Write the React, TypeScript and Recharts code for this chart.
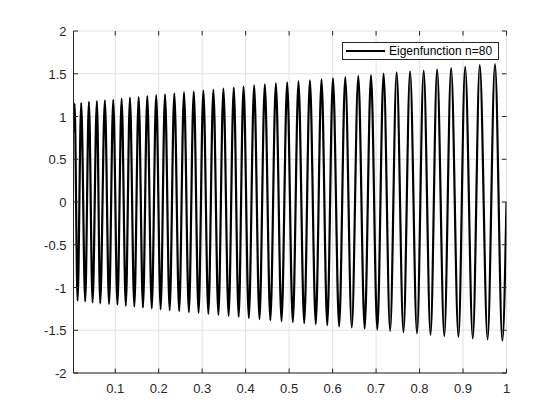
import React from "react";
import { LineChart, Line, XAxis, YAxis, CartesianGrid, Legend } from "recharts";

const seriesName = "Eigenfunction n=80";

// curve starts just inside the left edge and ends at zero on x=1
const startPoint = { x: 0.004, y: 0.82 };
const endPoint = { x: 1, y: 0 };

// maxima and minima
const peakX = [
  0.0065, 0.0217, 0.0394, 0.0578, 0.0762, 0.0954, 0.1147, 0.1338, 0.1539, 0.1737,
  0.1942, 0.2145, 0.2359, 0.2582, 0.2806, 0.3027, 0.3257, 0.3488, 0.3727, 0.3951,
  0.4195, 0.4441, 0.4695, 0.4955, 0.5215, 0.5478, 0.5745, 0.6008, 0.6291, 0.6591,
  0.6883, 0.7173, 0.7473, 0.7782, 0.8095, 0.8404, 0.8726, 0.9049, 0.9385, 0.9735,
];
const peakY = [
  1.150, 1.158, 1.170, 1.181, 1.189, 1.196, 1.208, 1.220, 1.228, 1.240,
  1.249, 1.260, 1.271, 1.283, 1.290, 1.302, 1.313, 1.325, 1.337, 1.349,
  1.365, 1.377, 1.388, 1.400, 1.412, 1.423, 1.435, 1.447, 1.462, 1.474,
  1.485, 1.501, 1.517, 1.529, 1.536, 1.552, 1.567, 1.582, 1.602, 1.614,
];
const troughX = [
  0.0134, 0.0309, 0.0479, 0.0654, 0.0858, 0.1051, 0.1243, 0.1439, 0.1638, 0.1840,
  0.2044, 0.2252, 0.2471, 0.2694, 0.2917, 0.3142, 0.3373, 0.3608, 0.3839, 0.4073,
  0.4318, 0.4568, 0.4825, 0.5085, 0.5347, 0.5612, 0.5877, 0.6150, 0.6441, 0.6737,
  0.7028, 0.7323, 0.7630, 0.7941, 0.8253, 0.8569, 0.8895, 0.9225, 0.9565, 0.9905,
];
const troughY = [
  -1.154, -1.164, -1.175, -1.185, -1.193, -1.202, -1.214, -1.224, -1.234, -1.245,
  -1.255, -1.266, -1.277, -1.287, -1.296, -1.308, -1.319, -1.331, -1.343, -1.357,
  -1.371, -1.383, -1.394, -1.406, -1.418, -1.429, -1.441, -1.455, -1.468, -1.480,
  -1.493, -1.509, -1.524, -1.536, -1.552, -1.567, -1.579, -1.594, -1.606, -1.622,
];

const xTicks = [0.1, 0.2, 0.3, 0.4, 0.5, 0.6, 0.7, 0.8, 0.9, 1];
const yTicks = [-2, -1.5, -1, -0.5, 0, 0.5, 1, 1.5, 2];
const xDomain = [0.004, 1];
const yDomain = [-2, 2];

const data = [
  startPoint,
  ...peakX.flatMap((px, i) => [
    { x: px, y: peakY[i] },
    { x: troughX[i], y: troughY[i] },
  ]),
  endPoint,
];

const AXIS = "#262626";
const GRID = "#e2e2e2";
const FONT = "'Liberation Sans', Arial, Helvetica, sans-serif";
const PLOT_LEFT = 73.5;
const PLOT_RIGHT = 506.5;
const PLOT_TOP = 31;
const PLOT_BOTTOM = 373;
const TICK_LEN = 4.5;

function XTick(props: any) {
  const { x, y, payload } = props;
  return (
    <g>
      <line x1={x} x2={x} y1={PLOT_BOTTOM} y2={PLOT_BOTTOM - TICK_LEN} stroke={AXIS} />
      <line x1={x} x2={x} y1={PLOT_TOP} y2={PLOT_TOP + TICK_LEN} stroke={AXIS} />
      <text x={x} y={y} dy="0.71em" textAnchor="middle" fill={AXIS} fontSize={13} fontFamily={FONT}>
        {payload.value}
      </text>
    </g>
  );
}

function YTick(props: any) {
  const { x, y, payload } = props;
  return (
    <g>
      <line x1={PLOT_LEFT} x2={PLOT_LEFT + TICK_LEN} y1={y} y2={y} stroke={AXIS} />
      <line x1={PLOT_RIGHT} x2={PLOT_RIGHT - TICK_LEN} y1={y} y2={y} stroke={AXIS} />
      <text x={x} y={y} dy="0.4em" textAnchor="end" fill={AXIS} fontSize={13} fontFamily={FONT}>
        {payload.value}
      </text>
    </g>
  );
}

function LegendBox(props: any) {
  const entry = props.payload && props.payload[0];
  return (
    <div
      style={{
        boxSizing: "border-box",
        width: 157,
        height: 18,
        border: `1px solid ${AXIS}`,
        background: "#fff",
        display: "flex",
        alignItems: "center",
        fontFamily: FONT,
        fontSize: 12,
        color: "#000",
      }}
    >
      <div style={{ width: 39, height: 2, background: "#000", marginLeft: 3, marginRight: 4 }} />
      <span style={{ whiteSpace: "nowrap" }}>{entry ? entry.value : seriesName}</span>
    </div>
  );
}

export default function App() {
  return (
    <div style={{ position: "relative", width: 560, height: 420, background: "#fff" }}>
      <style>{"body{margin:0}"}</style>
      <LineChart
        width={560}
        height={420}
        data={data}
        margin={{ top: PLOT_TOP, right: 560 - PLOT_RIGHT, bottom: 0, left: 0 }}
      >
        <CartesianGrid stroke={GRID} />
        <XAxis
          dataKey="x"
          type="number"
          domain={xDomain}
          ticks={xTicks}
          interval={0}
          allowDataOverflow
          height={420 - PLOT_BOTTOM}
          tickLine={false}
          tickSize={0}
          tickMargin={10.5}
          axisLine={{ stroke: AXIS }}
          tick={<XTick />}
        />
        <XAxis
          xAxisId="top"
          orientation="top"
          type="number"
          domain={xDomain}
          allowDataOverflow
          height={0}
          tick={false}
          tickLine={false}
          axisLine={{ stroke: AXIS }}
        />
        <YAxis
          type="number"
          domain={yDomain}
          ticks={yTicks}
          interval={0}
          allowDataOverflow
          width={PLOT_LEFT}
          tickLine={false}
          tickSize={0}
          tickMargin={7}
          axisLine={{ stroke: AXIS }}
          tick={<YTick />}
        />
        <YAxis
          yAxisId="right"
          orientation="right"
          type="number"
          domain={yDomain}
          allowDataOverflow
          width={0}
          tick={false}
          tickLine={false}
          axisLine={{ stroke: AXIS }}
        />
        <Legend
          layout="vertical"
          verticalAlign="middle"
          align="center"
          content={<LegendBox />}
          wrapperStyle={{ position: "absolute", left: 342, top: 42, width: 157, height: 18 }}
        />
        <Line
          name={seriesName}
          dataKey="y"
          type="monotone"
          stroke="#000"
          strokeWidth={2.2}
          dot={false}
          isAnimationActive={false}
        />
      </LineChart>
    </div>
  );
}
